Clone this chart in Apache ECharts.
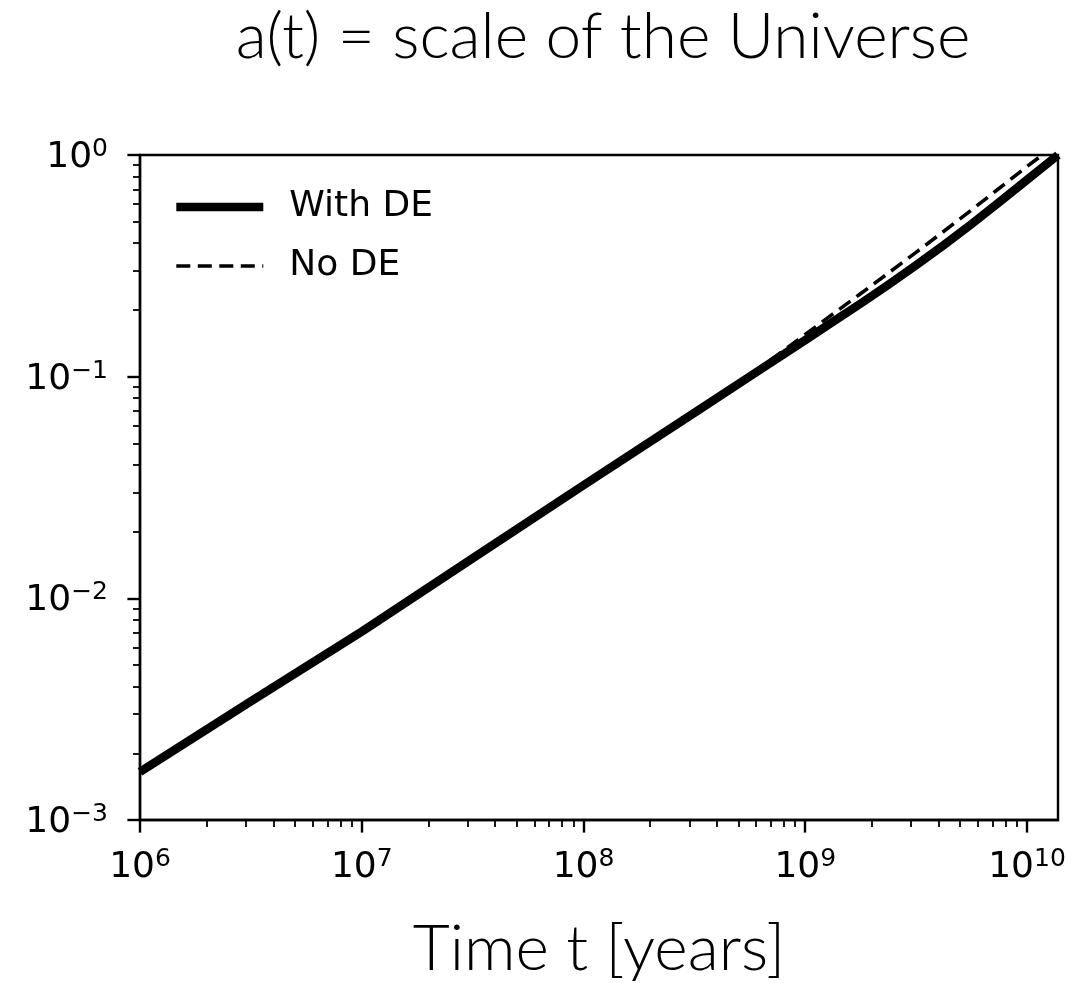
<!DOCTYPE html>
<html>
<head>
<meta charset="utf-8">
<title>a(t) = scale of the Universe</title>
<script src="https://cdn.jsdelivr.net/npm/echarts@6/dist/echarts.min.js"></script>
<style>
  html, body { margin: 0; padding: 0; background: #fff; }
  #chart { width: 1074px; height: 983px; }
</style>
</head>
<body>
<div id="chart"></div>
<script>
// Cosmic time in years and the scale factor a(t), normalised to a = 1 today.
const withDEYears = [1e6, 3.16e6, 1e7, 3.16e7, 1e8, 3.16e8, 5.62e8, 1e9, 1.33e9, 1.78e9, 2.37e9, 3.16e9, 4.22e9, 5.62e9, 7.5e9, 1e10, 1.38e10];
const withDE      = [0.00165, 0.00343, 0.00708, 0.01514, 0.03236, 0.06871, 0.1002, 0.1462, 0.1766, 0.2138, 0.2600, 0.3184, 0.3926, 0.4875, 0.6124, 0.7727, 1.0];

// Matter only (no dark energy): same early history, reaches a = 1 sooner.
const noDEYears = [1e6, 3.16e6, 1e7, 3.16e7, 1e8, 3.16e8, 5.62e8, 1e9, 1.33e9, 1.78e9, 2.37e9, 3.16e9, 4.22e9, 5.62e9, 7.5e9, 1e10, 1.17e10];
const noDE      = [0.00165, 0.00343, 0.00708, 0.01514, 0.03236, 0.06871, 0.1016, 0.1549, 0.1914, 0.2371, 0.2931, 0.3639, 0.4529, 0.5649, 0.7079, 0.8872, 1.0];

const seriesNames = ['With DE', 'No DE'];

// Axis ranges and tick positions
const xRange = [1e6, 1.38e10];
const yRange = [1e-3, 1];
const xMajorTicks = [1e6, 1e7, 1e8, 1e9, 1e10];
const yMajorTicks = [1e-3, 1e-2, 1e-1, 1];
const xMinorTicks = [
  2e6, 3e6, 4e6, 5e6, 6e6, 7e6, 8e6, 9e6,
  2e7, 3e7, 4e7, 5e7, 6e7, 7e7, 8e7, 9e7,
  2e8, 3e8, 4e8, 5e8, 6e8, 7e8, 8e8, 9e8,
  2e9, 3e9, 4e9, 5e9, 6e9, 7e9, 8e9, 9e9
];
const yMinorTicks = [
  2e-3, 3e-3, 4e-3, 5e-3, 6e-3, 7e-3, 8e-3, 9e-3,
  2e-2, 3e-2, 4e-2, 5e-2, 6e-2, 7e-2, 8e-2, 9e-2,
  0.2, 0.3, 0.4, 0.5, 0.6, 0.7, 0.8, 0.9
];

const pairs = (xs, ys) => xs.map((x, i) => [x, ys[i]]);

const TICK_FONT = 'DejaVu Sans';
const DISPLAY_FONT = 'Lato';
const INK = '#000';
const SPINE = 2.4;

// "10" followed by a raised exponent, e.g. 10^-3
function powerLabel(v) {
  const e = Math.round(Math.log10(v));
  const exp = e < 0 ? '\u2212' + (-e) : String(e);
  return '{b|10}{s|' + exp + '}';
}
const powerRich = {
  b: { fontFamily: TICK_FONT, fontSize: 36, lineHeight: 36, color: INK, padding: [5, 0, 0, 0] },
  s: { fontFamily: TICK_FONT, fontSize: 25, lineHeight: 25, color: INK, verticalAlign: 'top' }
};

const chart = echarts.init(document.getElementById('chart'), null, { renderer: 'canvas' });

chart.setOption({
  backgroundColor: '#fff',
  animation: false,
  title: {
    text: 'a(t) = scale of the Universe',
    left: 598,
    top: 0,
    textAlign: 'center',
    textStyle: { fontFamily: DISPLAY_FONT, fontWeight: 300, fontSize: 64, lineHeight: 64, color: INK }
  },
  legend: {
    orient: 'vertical',
    left: 172,
    top: 187,
    padding: 0,
    itemWidth: 87,
    itemHeight: 14,
    itemGap: 19,
    data: seriesNames,
    itemStyle: { color: 'rgba(0,0,0,0)', borderColor: 'rgba(0,0,0,0)', borderWidth: 0 },
    lineStyle: { width: 'inherit', type: 'inherit', color: INK },
    textStyle: { fontFamily: TICK_FONT, fontSize: 36, lineHeight: 40, color: INK, padding: [0, 0, 0, 21] }
  },
  grid: {
    left: 140, top: 155, width: 918, height: 665,
    containLabel: false,
    outerBoundsMode: 'none',
    show: true,
    borderColor: INK,
    borderWidth: SPINE,
    backgroundColor: 'transparent'
  },
  xAxis: [
    {
      type: 'log', logBase: 10,
      min: xRange[0], max: xRange[1],
      position: 'bottom',
      name: 'Time t [years]',
      nameLocation: 'middle',
      nameGap: 97,
      nameTextStyle: { fontFamily: DISPLAY_FONT, fontWeight: 300, fontSize: 64, lineHeight: 64, color: INK },
      axisLine: { show: true, onZero: false, lineStyle: { color: INK, width: SPINE } },
      axisTick: { show: true, inside: false, length: 12.6, customValues: xMajorTicks, lineStyle: { color: INK, width: SPINE } },
      axisLabel: { show: true, margin: 27, customValues: xMajorTicks, formatter: powerLabel, rich: powerRich },
      splitLine: { show: false },
      minorTick: { show: false }
    },
    {
      // minor ticks along the bottom
      type: 'log', logBase: 10,
      min: xRange[0], max: xRange[1],
      position: 'bottom',
      axisLine: { show: false, onZero: false },
      axisTick: { show: true, inside: false, length: 7, customValues: xMinorTicks, lineStyle: { color: INK, width: 1.8 } },
      axisLabel: { show: false },
      splitLine: { show: false }
    }
  ],
  yAxis: [
    {
      type: 'log', logBase: 10,
      min: yRange[0], max: yRange[1],
      position: 'left',
      axisLine: { show: true, onZero: false, lineStyle: { color: INK, width: SPINE } },
      axisTick: { show: true, inside: false, length: 12.6, customValues: yMajorTicks, lineStyle: { color: INK, width: SPINE } },
      axisLabel: { show: true, margin: 32, customValues: yMajorTicks, formatter: powerLabel, rich: powerRich },
      splitLine: { show: false },
      minorTick: { show: false }
    },
    {
      // minor ticks along the left side
      type: 'log', logBase: 10,
      min: yRange[0], max: yRange[1],
      position: 'left',
      axisLine: { show: false, onZero: false },
      axisTick: { show: true, inside: false, length: 7, customValues: yMinorTicks, lineStyle: { color: INK, width: 1.8 } },
      axisLabel: { show: false },
      splitLine: { show: false }
    }
  ],
  series: [
    {
      name: seriesNames[0],
      type: 'line',
      xAxisIndex: 0, yAxisIndex: 0,
      data: pairs(withDEYears, withDE),
      showSymbol: false,
      symbol: 'none',
      smooth: false,
      clip: true,
      lineStyle: { color: INK, width: 8.6, type: 'solid', cap: 'butt', join: 'round' },
      itemStyle: { color: INK },
      emphasis: { disabled: true },
      z: 2
    },
    {
      name: seriesNames[1],
      type: 'line',
      xAxisIndex: 0, yAxisIndex: 0,
      data: pairs(noDEYears, noDE),
      showSymbol: false,
      symbol: 'none',
      smooth: false,
      clip: true,
      lineStyle: { color: INK, width: 3.6, type: [14, 7.5], cap: 'butt', join: 'round' },
      itemStyle: { color: INK },
      emphasis: { disabled: true },
      z: 3
    }
  ]
});
</script>
</body>
</html>
